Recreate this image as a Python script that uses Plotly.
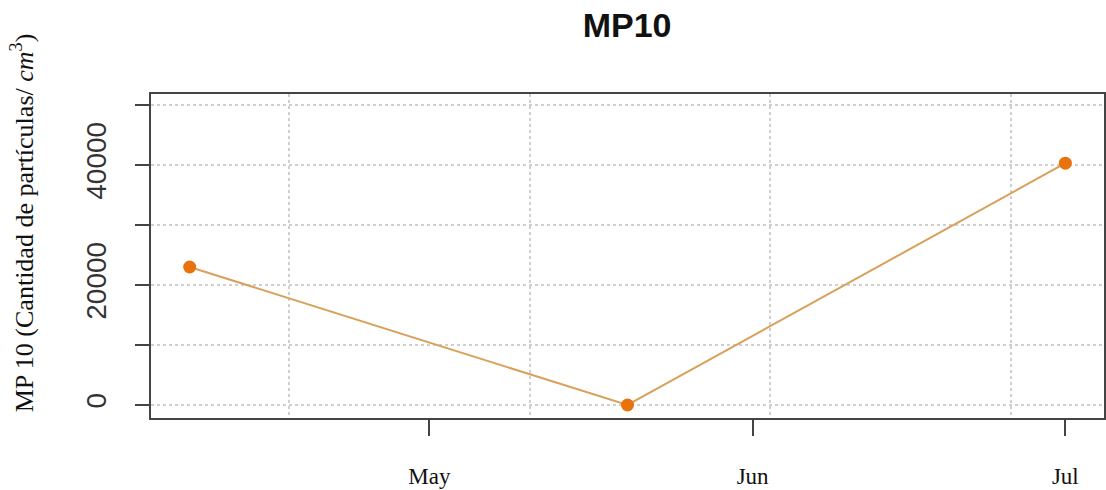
import plotly.graph_objects as go

# Data
dates = ["2021-04-08", "2021-05-20", "2021-07-01"]
values = [23000, 0, 40300]
y_tickvals = [0, 20000, 40000]
y_ticktext = ["0", "20000", "40000"]
y_minorvals = [10000, 30000, 50000]
x_tickvals = ["2021-05-01", "2021-06-01", "2021-07-01"]
x_ticktext = ["May", "Jun", "Jul"]

x_range = ["2021-04-04 07:00", "2021-07-04 17:00"]
y_range = [-2167, 51833]

GRID = dict(showgrid=True, gridcolor="#cfcfcf", griddash="dot", gridwidth=1.5)

fig = go.Figure()
fig.add_trace(go.Scatter(
    x=dates, y=values, mode="lines+markers",
    line=dict(color="#d9a05b", width=2),
    marker=dict(color="#e8720c", size=13),
    showlegend=False, hoverinfo="skip",
))
# invisible trace on secondary x axis to carry the vertical grid
fig.add_trace(go.Scatter(x=[x_range[0]], y=[0], xaxis="x2", mode="markers",
                         marker=dict(opacity=0), showlegend=False, hoverinfo="skip"))

fig.update_layout(
    width=1106, height=490,
    margin=dict(l=151, r=2, t=94, b=72, autoexpand=False),
    paper_bgcolor="white", plot_bgcolor="white",
    title=dict(text="<b>MP10</b>", x=0.567, xanchor="center", y=0.949, yanchor="middle",
               font=dict(family="Liberation Sans, Arial", size=34, color="#111"),
               automargin=False),
    xaxis=dict(
        type="date", range=x_range, automargin=False,
        tickmode="array", tickvals=x_tickvals, ticktext=x_ticktext,
        ticks="outside", ticklen=16, tickwidth=2, tickcolor="#444",
        showgrid=False, zeroline=False,
        showline=True, linecolor="#444", linewidth=2, mirror=True,
        ticklabelstandoff=20,
        tickfont=dict(family="Liberation Serif, Times New Roman", size=23, color="#111"),
    ),
    xaxis2=dict(
        type="date", range=x_range, overlaying="x", automargin=False,
        tick0="2021-04-17 12:00", dtick=1995840000,
        showticklabels=False, ticks="",
        zeroline=False, showline=False, **GRID,
    ),
    yaxis=dict(
        range=y_range, automargin=False,
        tickmode="array", tickvals=y_tickvals, ticktext=y_ticktext,
        tickangle=-90,
        ticks="outside", ticklen=14, tickwidth=2, tickcolor="#444",
        zeroline=False,
        showline=True, linecolor="#444", linewidth=2, mirror=True,
        ticklabelstandoff=18,
        tickfont=dict(family="Liberation Sans, Arial", size=28, color="#333"),
        minor=dict(tickmode="array", tickvals=y_minorvals, ticks="outside",
                   ticklen=14, tickwidth=2, tickcolor="#444", **GRID),
        **GRID,
    ),
    annotations=[dict(
        text="MP 10 (Cantidad de partículas/ <i>cm</i><sup>3</sup>)",
        textangle=-90, xref="paper", yref="paper",
        x=-0.134, y=0.602, xanchor="center", yanchor="middle",
        showarrow=False,
        font=dict(family="Liberation Serif, Times New Roman", size=26, color="#111"),
    )],
)

fig.write_html("out.html", config={"displayModeBar": False},
               post_script="document.body.style.margin='0';")
